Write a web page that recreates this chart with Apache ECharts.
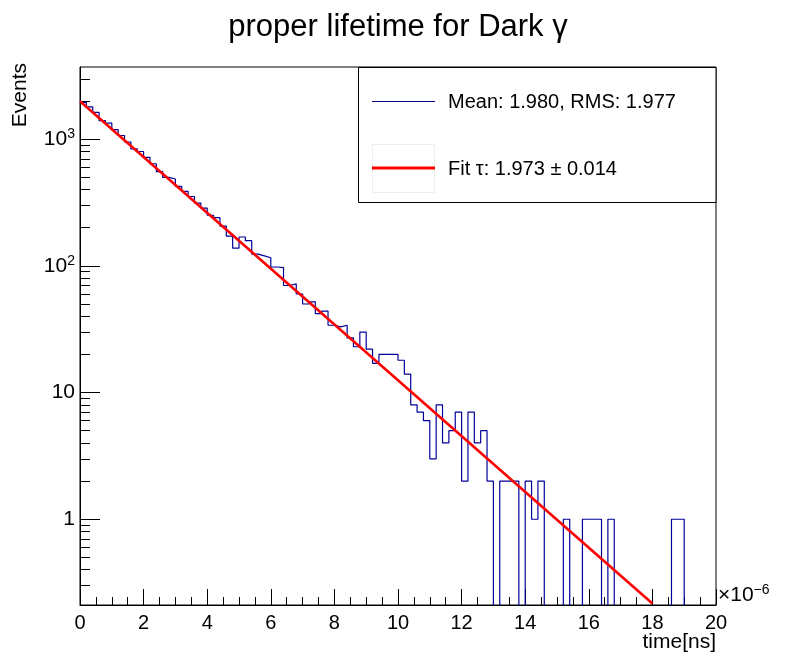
<!DOCTYPE html>
<html>
<head>
<meta charset="utf-8">
<title>proper lifetime for Dark γ</title>
<script src="https://cdn.jsdelivr.net/npm/echarts@6.0.0/dist/echarts.min.js"></script>
<style>
    html, body { margin: 0; padding: 0; background: #fff; }
    #main { width: 796px; height: 672px; }
</style>
</head>
<body>
<div id="main"></div>
<script>
// histogram: 100 bins, 0.2 wide, from 0 to 20 (counts)
var binStart = 0;
var binWidth = 0.2;
var counts = [
    1950, 1800, 1630, 1400, 1340, 1190, 1070, 950, 840, 800,
    720, 640, 555, 500, 485, 424, 387, 353, 313, 286,
    251, 240, 206, 172, 138, 169, 158, 124, 120, 116,
    98, 97, 70, 72, 60, 50, 52, 42, 44, 34,
    33, 34, 27, 23, 30, 22, 17, 20, 20, 20,
    18, 14, 8, 7, 6, 3, 8, 4, 5, 7,
    2, 7, 4, 5, 2, 0, 2, 2, 2, 0,
    2, 1, 2, 0, 0, 0, 1, 0, 0, 1,
    1, 1, 0, 1, 0, 0, 0, 0, 0, 0,
    0, 0, 0, 1, 1, 0, 0, 0, 0, 0
];

// exponential fit, straight on the log axis: two end points
var fitX = [0, 18];
var fitY = [1990, 0.216];

// axis range and ticks
var xMin = 0, xMax = 20, xStep = 2;
var yMin = 0.2104, yMax = 3715;
var yMajorTicks = [1, 10, 100, 1000];
var yMinorTicks = [
    0.3, 0.4, 0.5, 0.6, 0.7, 0.8, 0.9,
    2, 3, 4, 5, 6, 7, 8, 9,
    20, 30, 40, 50, 60, 70, 80, 90,
    200, 300, 400, 500, 600, 700, 800, 900,
    2000, 3000
];

var font = '"Liberation Sans", Arial, Helvetica, sans-serif';

var histData = [];
for (var i = 0; i < counts.length; i++) {
    // empty bins fall below the frame, the line drops to the bottom like ROOT
    histData.push([binStart + i * binWidth, counts[i] > 0 ? counts[i] : yMin / 10]);
}
var last = counts[counts.length - 1];
histData.push([binStart + counts.length * binWidth, last > 0 ? last : yMin / 10]);

var fitData = [];
for (var j = 0; j < fitX.length; j++) {
    fitData.push([fitX[j], fitY[j]]);
}

var mychart = echarts.init(document.getElementById('main'), null, {renderer: 'canvas'});
var option = {
    animation: false,
    backgroundColor: '#fff',
    title: {
        text: 'proper lifetime for Dark γ',
        left: 'center',
        top: 7,
        textStyle: {
            fontFamily: font,
            fontSize: 31,
            fontWeight: 'normal',
            color: '#000'
        }
    },
    grid: {
        left: 80,
        right: 80,
        top: 67,
        bottom: 67,
        show: true,
        borderColor: '#000',
        borderWidth: 1,
        backgroundColor: 'transparent'
    },
    xAxis: {
        type: 'value',
        min: xMin,
        max: xMax,
        interval: xStep,
        axisLine: { lineStyle: { color: '#000', width: 1 } },
        axisTick: { inside: true, length: 16, lineStyle: { color: '#000' } },
        minorTick: { show: true, splitNumber: 4, length: 8, lineStyle: { color: '#000' } },
        splitLine: { show: false },
        axisLabel: { color: '#000', fontFamily: font, fontSize: 20, margin: 8 }
    },
    yAxis: [
        {
            type: 'log',
            logBase: 10,
            position: 'left',
            min: yMin,
            max: yMax,
            axisLine: { show: true, lineStyle: { color: '#000', width: 1 } },
            axisTick: {
                show: true,
                inside: true,
                length: 20,
                customValues: yMajorTicks,
                lineStyle: { color: '#000' }
            },
            splitLine: { show: false },
            axisLabel: {
                customValues: yMajorTicks,
                margin: 5,
                color: '#000',
                fontFamily: font,
                fontSize: 21,
                formatter: function (v) {
                    if (v >= 100) {
                        return '{b|10}{s|' + Math.round(Math.log10(v)) + '}';
                    }
                    return '{b|' + Math.round(v) + '}';
                },
                rich: {
                    b: { fontFamily: font, fontSize: 21, color: '#000' },
                    s: { fontFamily: font, fontSize: 14, color: '#000', padding: [0, 0, 10, 0] }
                }
            }
        },
        {
            type: 'log',
            logBase: 10,
            position: 'left',
            offset: 0,
            min: yMin,
            max: yMax,
            axisLine: { show: false },
            axisTick: {
                show: true,
                inside: true,
                length: 10,
                customValues: yMinorTicks,
                lineStyle: { color: '#000' }
            },
            splitLine: { show: false },
            axisLabel: { show: false }
        }
    ],
    series: [
        {
            name: 'hist',
            type: 'line',
            step: 'end',
            data: histData,
            symbol: 'none',
            clip: true,
            lineStyle: { color: '#000099', width: 1.2 },
            z: 3
        },
        {
            name: 'fit',
            type: 'line',
            data: fitData,
            symbol: 'none',
            clip: true,
            lineStyle: { color: '#ff0000', width: 2.6 },
            z: 4
        }
    ],
    graphic: [
        // legend box
        {
            type: 'rect',
            shape: { x: 358.5, y: 67.5, width: 357.5, height: 135 },
            style: { fill: '#fff', stroke: '#000', lineWidth: 1 },
            z: 10
        },
        {
            type: 'line',
            shape: { x1: 372, y1: 101.5, x2: 435, y2: 101.5 },
            style: { stroke: '#000080', lineWidth: 1 },
            z: 11
        },
        {
            type: 'text',
            x: 448,
            y: 102,
            style: {
                text: 'Mean: 1.980, RMS: 1.977',
                fill: '#000',
                font: '20px ' + font,
                verticalAlign: 'middle'
            },
            z: 11
        },
        {
            type: 'rect',
            shape: { x: 372.5, y: 144.5, width: 62, height: 48 },
            style: { fill: 'none', stroke: '#eeeeee', lineWidth: 1 },
            z: 11
        },
        {
            type: 'line',
            shape: { x1: 372, y1: 168, x2: 435, y2: 168 },
            style: { stroke: '#ff0000', lineWidth: 3 },
            z: 12
        },
        {
            type: 'text',
            x: 448,
            y: 169,
            style: {
                text: 'Fit τ: 1.973 ± 0.014',
                fill: '#000',
                font: '20px ' + font,
                verticalAlign: 'middle'
            },
            z: 11
        },
        // axis titles
        {
            type: 'text',
            x: 20,
            y: 63,
            rotation: Math.PI / 2,
            style: {
                text: 'Events',
                fill: '#000',
                font: '21px ' + font,
                align: 'right',
                verticalAlign: 'middle'
            }
        },
        {
            type: 'text',
            x: 716,
            y: 642,
            style: {
                text: 'time[ns]',
                fill: '#000',
                font: '21px ' + font,
                align: 'right',
                verticalAlign: 'middle'
            }
        },
        {
            type: 'text',
            x: 718,
            y: 607,
            style: {
                text: '{b|×10}{s|−6}',
                verticalAlign: 'bottom',
                rich: {
                    b: { fontFamily: font, fontSize: 21, color: '#000' },
                    s: { fontFamily: font, fontSize: 14, color: '#000', padding: [0, 0, 10, 0] }
                }
            }
        }
    ]
};
mychart.setOption(option);
</script>
</body>
</html>
